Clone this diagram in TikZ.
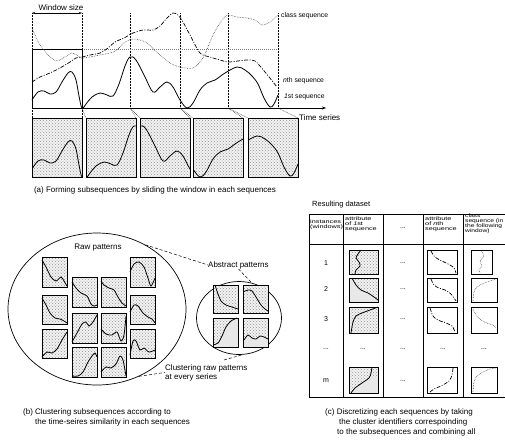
\documentclass[tikz,border=0pt]{standalone}
\usepackage{fontspec}
\setmainfont{Liberation Sans}
\newfontfamily\hdrfont[FakeStretch=1.4]{Liberation Sans}
\newfontfamily\hdrnarrow[FakeStretch=1.28]{Liberation Sans}
\usetikzlibrary{patterns,shapes.geometric,arrows.meta}

% first sequence, reused in the window boxes
\newcommand\firstseq{plot[smooth, tension=0.6] coordinates {(32,100) (38,92) (44,91) (50,94) (56,92) (62,82) (68,73) (72,72) (76,80) (79,96) (82,108) (86,104) (92,97) (100,93) (107,95) (113,96) (119,84) (125,66) (130,57) (136,60) (145,77) (153,92) (160,87) (167,82) (173,87) (180,100) (187,108) (193,103) (200,90) (207,83) (215,80) (225,73) (237,67) (245,70) (252,76) (258,84) (264,98) (270,107) (274,104) (278,95)}}

\begin{document}
\begin{tikzpicture}[x=1pt,y=-1pt,
  captxt/.style={font=\fontsize{8}{9}\selectfont, inner sep=0pt},
  seqlbl/.style={font=\fontsize{6.8}{8}\selectfont, inner sep=0pt},
  hdr/.style={font=\hdrfont\fontsize{5.2}{4.9}\selectfont, inner sep=0pt, align=left, anchor=north west},
  cell/.style={font=\fontsize{7}{8}\selectfont, inner sep=0pt},
  guide/.style={densely dotted, line width=0.5pt},
  stipple/.style={draw, line width=0.7pt, preaction={fill=gray!10}, pattern=crosshatch dots, pattern color=gray!85},
  plainbox/.style={draw, line width=0.7pt},
  subbox/.style={stipple, minimum width=50, minimum height=59, inner sep=0pt, outer sep=0pt},
  seq/.style={line width=0.8pt},
  nthseq/.style={line width=0.7pt, dash pattern=on 4pt off 1.5pt on 1pt off 1.5pt},
  clsseq/.style={line width=0.6pt, densely dotted, black!75},
  link/.style={line width=0.5pt, dash pattern=on 3pt off 2pt},
  winarrow/.style={line width=0.4pt, {Stealth[length=3pt,width=2pt]}-{Stealth[length=3pt,width=2pt]}}]
\useasboundingbox (0,0) rectangle (505,440);

% (a) sliding window
\foreach \x [count=\i from 0] in {32,82,130,180,228,278} {
  \coordinate (t\i) at (\x,13);
  \coordinate (w\i) at (\x,108);
  \draw[guide] (t\i) -- (w\i);
}
\draw[winarrow] (t0) -- (t1);
\node[captxt] (wsize) at (61,7.5) {Window size};
\draw[gray, densely dotted, line width=1pt] (82,49) -- (278,49);
\draw[line width=1pt] (32,49) rectangle (82,108);
\draw[line width=0.8pt, -{Stealth[length=4pt,width=3pt]}] (w0) -- (326,108);

\draw[clsseq] plot[smooth] coordinates {(32,28) (40,45) (50,57) (57,61) (65,57) (72,53) (78,56) (82,58) (90,57) (100,55) (110,53) (117,50) (125,42) (133,39) (140,40) (147,43) (160,55) (170,63) (180,67) (193,68) (203,58) (213,35) (222,20) (228,15) (237,17) (247,18) (255,20) (262,25) (270,22) (278,15)};
\draw[nthseq] plot[smooth] coordinates {(32,82) (40,77) (50,73) (60,68) (70,62) (76,58) (82,57) (90,55) (100,53) (108,48) (115,42) (124,38) (133,33) (143,30) (153,30) (160,26) (167,18) (173,13) (178,15) (183,22) (190,35) (200,53) (210,57) (220,60) (228,62) (238,61) (247,60) (255,61) (265,72) (277,87)};
\draw[seq] \firstseq;

\node[seqlbl, anchor=west] (clslbl) at (281,16) {class sequence};
\node[seqlbl, anchor=west] (nthlbl) at (283,81) {\textit{n}th sequence};
\node[seqlbl, anchor=west] (fstlbl) at (284,97) {\textit{1}st sequence};
\node[captxt, anchor=west] (tslbl) at (299,118) {Time series};

\node[subbox] (s1) at (57,147.5) {};
\node[subbox] (s2) at (111,147.5) {};
\node[subbox] (s3) at (165,147.5) {};
\node[subbox] (s4) at (218,147.5) {};
\node[subbox] (s5) at (273,147.5) {};
\foreach \i/\dx in {1/0, 2/4, 3/10, 4/13, 5/20} {
  \begin{scope}
    \clip (s\i.south west) rectangle (s\i.north east);
    \draw[seq, shift={(\dx,69)}] \firstseq;
  \end{scope}
}
\draw[guide] (w0) -- (s1.north west);
\draw[guide] (w1) -- (s1.north east);
\draw[guide] (w1) -- (s2.north west);
\draw[guide] (w2) -- (s2.north east);
\draw[guide] (w2) -- (s3.north west);
\draw[guide] (w3) -- (s3.north east);
\draw[guide] (w3) -- (s4.north west);
\draw[guide] (w4) -- (s4.north east);
\draw[guide] (w4) -- (s5.north west);
\draw[guide] (w5) -- (s5.north east);

\node[captxt] (capa) at (155,190) {(a) Forming subsequences by sliding the window in each sequences};

% (b) clustering
\node[draw, ellipse, line width=0.7pt, minimum width=178, minimum height=152, inner sep=0pt] (raw) at (97,309) {};
\node[draw, ellipse, line width=0.7pt, minimum width=85, minimum height=73, inner sep=0pt] (abst) at (239,318) {};
\node[captxt] (rawlbl) at (98,248) {Raw patterns};
\node[captxt, anchor=west] (abslbl) at (208,265) {Abstract patterns};
\node[captxt, anchor=north west, align=left] (clulbl) at (165,364) {Clustering raw patterns\\at every series};
\coordinate (clutop) at (224,360);
\draw[link] (raw.53) -- (abslbl.west);
\draw[link] (abslbl.south) -- (abst.70);
\draw[link] (raw.-58) -- (clulbl.west);
\draw[link] (clutop) -- (abst.-85);

\draw[stipple] (42,257) rectangle (67,287);
\draw[stipple] (42,295) rectangle (67,324);
\draw[stipple] (42,329) rectangle (67,358);
\draw[stipple] (72,277) rectangle (97,307);
\draw[stipple] (72,313) rectangle (97,343);
\draw[stipple] (72,347) rectangle (97,377);
\draw[stipple] (101,277) rectangle (126,307);
\draw[stipple] (101,313) rectangle (126,343);
\draw[stipple] (101,347) rectangle (126,377);
\draw[stipple] (130,257) rectangle (155,287);
\draw[stipple] (130,295) rectangle (155,324);
\draw[stipple] (130,329) rectangle (155,358);
\draw[seq] plot[smooth] coordinates {(42,260) (46,267) (51,277) (56,281) (61,277) (64,281) (67,286)};
\draw[seq] plot[smooth] coordinates {(42,298) (46,305) (50,313) (55,318) (60,319) (64,321) (67,323)};
\draw[seq] plot[smooth] coordinates {(42,357) (47,352) (52,353) (57,349) (62,340) (67,332)};
\draw[seq] plot[smooth] coordinates {(72,282) (76,288) (81,293) (87,296) (91,304) (94,306) (97,305)};
\draw[seq] plot[smooth] coordinates {(72,342) (77,333) (82,324) (86,322) (89,326) (93,322) (97,315)};
\draw[seq] plot[smooth] coordinates {(72,376) (78,376) (83,372) (88,362) (92,356) (95,353) (97,357)};
\draw[seq] plot[smooth] coordinates {(101,281) (104,285) (109,288) (114,290) (118,297) (122,303) (126,306)};
\draw[seq] plot[smooth] coordinates {(101,329) (106,334) (112,335) (117,332) (121,341) (124,335) (126,316)};
\draw[seq] plot[smooth] coordinates {(101,372) (106,367) (111,368) (116,364) (120,356) (123,360) (126,376)};
\draw[seq] plot[smooth] coordinates {(130,272) (134,264) (139,262) (144,267) (148,278) (151,286) (155,278)};
\draw[seq] plot[smooth] coordinates {(130,312) (134,305) (138,306) (143,313) (148,317) (152,319) (155,323)};
\draw[seq] plot[smooth] coordinates {(130,355) (133,341) (136,341) (140,350) (144,348) (149,352) (155,350)};

\draw[stipple] (213,285) rectangle (238,313);
\draw[stipple] (243,285) rectangle (268,313);
\draw[stipple] (213,318) rectangle (238,347);
\draw[stipple] (243,318) rectangle (268,347);
\fill[gray!18] (213,347) -- plot[smooth] coordinates {(213,345) (218,343) (222,336) (226,327) (231,321) (237,318)} -- (238,347) -- cycle;
\fill[gray!18] (243,347) -- plot[smooth] coordinates {(244,340) (248,335) (252,338) (256,339) (260,336) (264,337) (268,339)} -- (268,347) -- cycle;
\draw[line width=0.7pt] (213,318) rectangle (238,347);
\draw[line width=0.7pt] (243,318) rectangle (268,347);
\draw[seq] plot[smooth] coordinates {(215,285) (218,294) (221,301) (226,305) (232,307) (238,309)};
\draw[seq] plot[smooth] coordinates {(243,292) (248,290) (252,291) (256,297) (261,305) (265,309) (268,311)};
\draw[seq] plot[smooth] coordinates {(213,345) (218,343) (222,336) (226,327) (231,321) (237,318)};
\draw[seq] plot[smooth] coordinates {(244,340) (248,335) (252,338) (256,339) (260,336) (264,337) (268,339)};

\node[captxt, anchor=west] (capb1) at (23,412) {(b) Clustering subsequences according to};
\node[captxt, anchor=west] (capb2) at (35,422) {the time-seires similarity in each sequences};

% (c) resulting dataset
\node[cell, font=\fontsize{7.5}{8}\selectfont, anchor=west] (restitle) at (312,205) {Resulting dataset};
\draw[line width=0.7pt] (309,214) rectangle (520,397);
\draw[line width=0.7pt] (309,244) -- (520,244);
\draw[line width=0.7pt] (343,214) -- (343,397);
\draw[line width=0.7pt] (383,214) -- (383,397);
\draw[line width=0.7pt] (423,214) -- (423,397);
\draw[line width=0.7pt] (463,214) -- (463,397);

\node[hdr] (h1) at (310,220) {instances\\(windows)};
\node[hdr] (h2) at (345,217) {attribute\\of \textit{1}st\\sequence};
\node[cell] (h3) at (403,228) {...};
\node[hdr] (h4) at (425,217) {attribute\\of \textit{n}th\\sequence};
\node[hdr, font=\hdrnarrow\fontsize{5.2}{4.9}\selectfont] (h5) at (465,214) {class\\sequence (in\\the following\\window)};

\node[cell] (r1) at (326,263) {1};
\node[cell] (r2) at (326,289) {2};
\node[cell] (r3) at (326,319) {3};
\node[cell] (r4) at (326,349) {...};
\node[cell] (r5) at (326,381) {m};
\node[cell] (d1) at (403,263) {...};
\node[cell] (d2) at (403,289) {...};
\node[cell] (d3) at (403,319) {...};
\node[cell] (d4) at (403,349) {...};
\node[cell] (d5) at (403,381) {...};
\node[cell] (e2) at (363,349) {...};
\node[cell] (e4) at (443,349) {...};
\node[cell] (e5) at (484,349) {...};

\draw[stipple] (349,250) rectangle (378,274);
\draw[stipple] (349,278) rectangle (378,302);
\draw[stipple] (349,307) rectangle (378,333);
\draw[stipple] (349,367) rectangle (378,393);
\fill[gray!18] (349,278) -- plot[smooth] coordinates {(352,278) (356,285) (361,290) (368,293) (374,297) (378,300)} -- (378,302) -- (349,302) -- cycle;
\fill[gray!18] (351,393) -- plot[smooth] coordinates {(355,388) (362,383) (369,378)} -- (378,378) -- (378,393) -- cycle;
\draw[line width=0.7pt] (349,278) rectangle (378,302);
\draw[line width=0.7pt] (349,367) rectangle (378,393);
\draw[seq] plot[smooth] coordinates {(361,250) (358,254) (356,258) (359,262) (360,266) (356,270) (355,274)};
\draw[seq] plot[smooth] coordinates {(352,278) (356,285) (361,290) (368,293) (374,297) (378,300)};
\draw[seq] plot[smooth] coordinates {(351,333) (353,322) (356,316) (362,313) (370,310) (378,307)};
\draw[seq] plot[smooth] coordinates {(372,367) (371,373) (369,378) (362,383) (355,388) (351,393)};

\draw[plainbox] (427,250) rectangle (457,274);
\draw[plainbox] (427,278) rectangle (457,302);
\draw[plainbox] (427,307) rectangle (457,333);
\draw[plainbox] (427,367) rectangle (457,393);
\draw[nthseq] plot[smooth] coordinates {(431,251) (434,256) (438,259) (444,262) (450,265) (454,268) (456,273)};
\draw[nthseq] plot[smooth] coordinates {(431,279) (434,285) (439,288) (445,290) (451,294) (456,301)};
\draw[nthseq] plot[smooth] coordinates {(430,308) (433,316) (438,320) (446,323) (452,326) (455,332)};
\draw[nthseq] plot[smooth] coordinates {(453,368) (452,375) (449,381) (441,386) (434,389) (430,392)};

\draw[plainbox] (471,250) rectangle (492,274);
\draw[plainbox] (471,278) rectangle (497,302);
\draw[plainbox] (471,307) rectangle (497,333);
\draw[plainbox] (471,367) rectangle (497,393);
\draw[clsseq] plot[smooth] coordinates {(481,251) (484,256) (480,261) (482,266) (479,270) (480,273)};
\draw[clsseq] plot[smooth] coordinates {(473,301) (474,292) (477,287) (482,284) (490,281) (496,279)};
\draw[clsseq] plot[smooth] coordinates {(473,309) (476,315) (481,320) (487,323) (493,325) (496,328)};
\draw[clsseq] plot[smooth] coordinates {(473,392) (474,382) (477,376) (483,372) (490,369) (496,368)};

\node[captxt, anchor=west] (capc1) at (325,412) {(c) Discretizing each sequences by taking};
\node[captxt, anchor=west] (capc2) at (339,422) {the cluster identifiers correspoinding};
\node[captxt, anchor=west] (capc3) at (337,432) {to the subsequences and combining all};
\end{tikzpicture}
\end{document}
